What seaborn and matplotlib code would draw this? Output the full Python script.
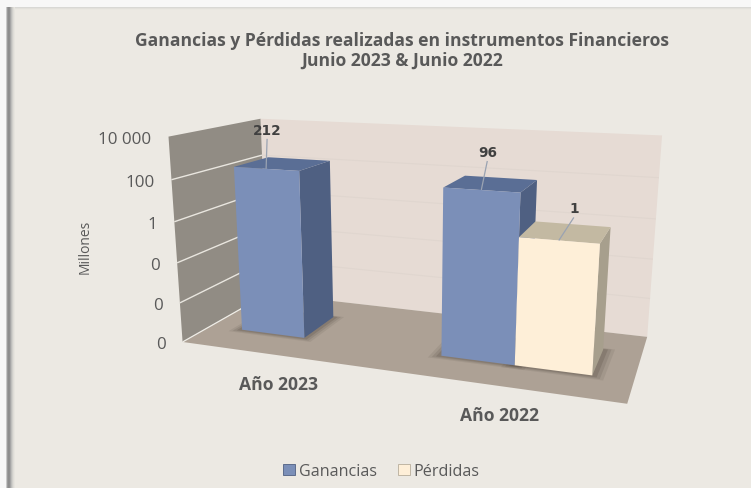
import numpy as np
import pandas as pd
import matplotlib
matplotlib.use("Agg")
import matplotlib.pyplot as plt
from matplotlib.patches import Polygon, Rectangle
from matplotlib.transforms import Affine2D, Transform
import seaborn as sns

# ---- data ----
years = ["Año 2023", "Año 2023", "Año 2022", "Año 2022"]
series = ["Ganancias", "Pérdidas", "Ganancias", "Pérdidas"]
values = [212, np.nan, 96, 1]
categories = ["Año 2023", "Año 2022"]
series_names = ["Ganancias", "Pérdidas"]
tick_values = [1e4, 1e2, 1, 1e-2, 1e-4, 1e-6]
tick_labels = ["10 000", "100", "1", "0", "0", "0"]
title = "Ganancias y Pérdidas realizadas en instrumentos Financieros\nJunio 2023 & Junio 2022"

# ---- style ----
W, H = 751, 489
BG = "#ECE9E3"
FRONT = {"Ganancias": "#7B8FB8", "Pérdidas": "#FEEFD8"}
SIDE = {"Ganancias": "#4F6082", "Pérdidas": "#A79F8D"}
TOP = {"Ganancias": "#5A6E95", "Pérdidas": "#C3B9A2"}
TEXT = "#595959"
LABEL = "#404040"
BAR_Z = (0.3, 0.7)
FLOOR = 1e-6
CEIL = 1e4
LABEL_OFFSETS = [(1, -39), (6, -38), (15, -32)]

# view of the 3-D box: (category, decades, depth) -> pixels
CAMERA = np.array([
    [186.066, -2.60113, 144.465, 274.938],
    [-1.70038, -23.0978, 5.16442, 231.593],
    [-0.0868052, -0.0064043, 0.195174, 1.0],
])
XMIN, XMAX = -0.5, 1.5


def project(x, v, z):
    d = np.log10(np.maximum(v, FLOOR))
    q = CAMERA @ np.array([x, d, z, 1.0])
    return q[0] / q[2], q[1] / q[2]


class Depth(Transform):
    """Maps the (x, value) of a bar onto the plane at depth z, in display units."""
    input_dims = output_dims = 2
    has_inverse = False
    is_separable = False

    def __init__(self, z):
        super().__init__()
        self.z = z

    def transform_non_affine(self, pts):
        pts = np.asarray(pts, dtype=float)
        d = np.log10(np.maximum(pts[:, 1], FLOOR))
        h = np.column_stack([pts[:, 0], d, np.full(len(pts), self.z), np.ones(len(pts))])
        q = h @ CAMERA.T
        return np.column_stack([q[:, 0] / q[:, 2], H - q[:, 1] / q[:, 2]])


pix = Affine2D().scale(1, -1).translate(0, H)

sns.set_style("white")
plt.rcParams["font.family"] = ["Open Sans", "DejaVu Sans"]

fig = plt.figure(figsize=(W / 100, H / 100), dpi=100, facecolor="#F7F7F7")
ax = fig.add_axes([0, 0, 1, 1])

df = pd.DataFrame({"Año": years, "Serie": series, "Valor": values})
sns.barplot(data=df, x="Año", y="Valor", hue="Serie", order=categories,
            hue_order=series_names, palette=FRONT, width=0.66, saturation=1,
            log_scale=True, ax=ax, legend=True)


def add(verts, color, z, **kw):
    ax.add_patch(Polygon(verts, closed=True, facecolor=color, edgecolor="none",
                         transform=pix, zorder=z, clip_on=False, **kw))


def line(p, q, color, lw, z, alpha=1):
    ax.plot([p[0], q[0]], [p[1], q[1]], color=color, lw=lw, alpha=alpha,
            transform=pix, zorder=z, clip_on=False, solid_capstyle="butt")


# card background and its soft left/top edge
ax.add_patch(Rectangle((6, 8), W, H - 8, facecolor=BG, edgecolor="none",
                       transform=pix, zorder=0, clip_on=False))
for i, c in enumerate(["#D8D8D5", "#E2E0DB", "#E9E7E1"]):
    ax.add_patch(Rectangle((6, 8 + i), W, 1, facecolor=c, edgecolor="none", lw=0,
                           transform=pix, zorder=0.1, clip_on=False, antialiased=False))
for i, c in enumerate(["#C8C8C8", "#9A9A9A", "#8C8C8C", "#8F8F8F", "#A5A5A5",
                       "#BDBDBB", "#D0CFCB", "#DEDCD7", "#E6E4DE"]):
    ax.add_patch(Rectangle((6 + i, 8), 1, H - 8, facecolor=c, edgecolor="none", lw=0,
                           transform=pix, zorder=0.2, clip_on=False, antialiased=False))

# walls and floor
add([project(XMIN, FLOOR, 1), project(XMAX, FLOOR, 1), project(XMAX, CEIL, 1),
     project(XMIN, CEIL, 1)], "#E6DBD4", 1)
add([project(XMIN, FLOOR, 0), project(XMIN, FLOOR, 1), project(XMIN, CEIL, 1),
     project(XMIN, CEIL, 0)], "#918C84", 1)
add([project(XMIN, FLOOR, 0), project(XMAX, FLOOR, 0), project(XMAX, FLOOR, 1),
     project(XMIN, FLOOR, 1)], "#ADA195", 1.2)
for t in tick_values[1:-1]:
    line(project(XMIN, t, 0), project(XMIN, t, 1), "#E9E6DF", 1.0, 1.3)
    line(project(XMIN, t, 1), project(XMAX, t, 1), "#E0D6CF", 0.8, 1.1)
line(project(XMIN, FLOOR, 0), project(XMIN, FLOOR, 1), "#EFEDE7", 0.9, 1.3)

# bars: seaborn's rectangles are placed on the front plane, the sides follow them
zf, zb = BAR_Z
bars = []
for container, name in zip(ax.containers, series_names):
    for patch in container:
        if np.isfinite(patch.get_height()) and patch.get_height() > 0:
            bars.append((patch, name))
bars.sort(key=lambda b: b[0].get_x())

for n, (patch, name) in enumerate(bars):
    x0 = patch.get_x()
    x1 = x0 + patch.get_width()
    top = patch.get_y() + patch.get_height()
    base = 2 + n
    for e, a in ((0.05, 0.10), (0.035, 0.14), (0.02, 0.2)):
        add([project(x0 - e, FLOOR, zf - e), project(x1 + e, FLOOR, zf - e),
             project(x1 + e, FLOOR, zb + e / 2), project(x0 - e, FLOOR, zb + e / 2)],
            "#4A3F36", 1.5, alpha=a)
    add([project(x1, FLOOR, zf), project(x1, FLOOR, zb), project(x1, top, zb),
         project(x1, top, zf)], SIDE[name], base)
    add([project(x0, top, zf), project(x1, top, zf), project(x1, top, zb),
         project(x0, top, zb)], TOP[name], base)
    patch.set_y(FLOOR)
    patch.set_height(top - FLOOR)
    patch.set_transform(Depth(zf))
    patch.set_clip_on(False)
    patch.set_zorder(base + 0.1)
    patch.set_edgecolor("none")
    # value label with leader line
    mx, my = project((x0 + x1) / 2, top, zf)
    ox, oy = LABEL_OFFSETS[n]
    line((mx, my), (mx + ox, my + oy + 9), "#9AA3B2", 0.9, 6)
    ax.text(mx + ox, my + oy, f"{top:.0f}", transform=pix, ha="center", va="center",
            fontsize=9.8, fontweight="bold", color=LABEL, family="DejaVu Sans", zorder=7)

# value axis
for t, lab in zip(tick_values, tick_labels):
    px, py = project(XMIN, t, 0)
    ax.text(px - 17, py + 2, lab, transform=pix, ha="right", va="center",
            fontsize=12.2, color=TEXT)
ax.text(85, 247, "Millones", transform=pix, rotation=90, ha="center", va="center",
        fontsize=10, color=TEXT)

# categories
for i, cat in enumerate(categories):
    px, py = project(i, FLOOR, 0)
    ax.text(px - 1, py + 29, cat, transform=pix, ha="center", va="center",
            fontsize=12.6, fontweight="bold", color=TEXT)

ax.text(402, 51, title, transform=pix, ha="center", va="center", fontsize=12.6,
        fontweight="bold", color=TEXT, linespacing=1.15)

# legend
sns.move_legend(ax, loc="center", bbox_to_anchor=(381.5 / W, 1 - 472 / H), ncol=2, title=None,
                frameon=False, fontsize=11.6, handlelength=0.7, handleheight=0.7,
                handletextpad=0.25, columnspacing=1.35, labelcolor=TEXT,
                borderpad=0, borderaxespad=0)
for h, c in zip(ax.get_legend().get_patches(), ["#4F6082", "#B8AD9B"]):
    h.set_edgecolor(c)
    h.set_linewidth(0.6)

ax.axis("off")
fig.savefig("out.png", dpi=100, facecolor=fig.get_facecolor())
